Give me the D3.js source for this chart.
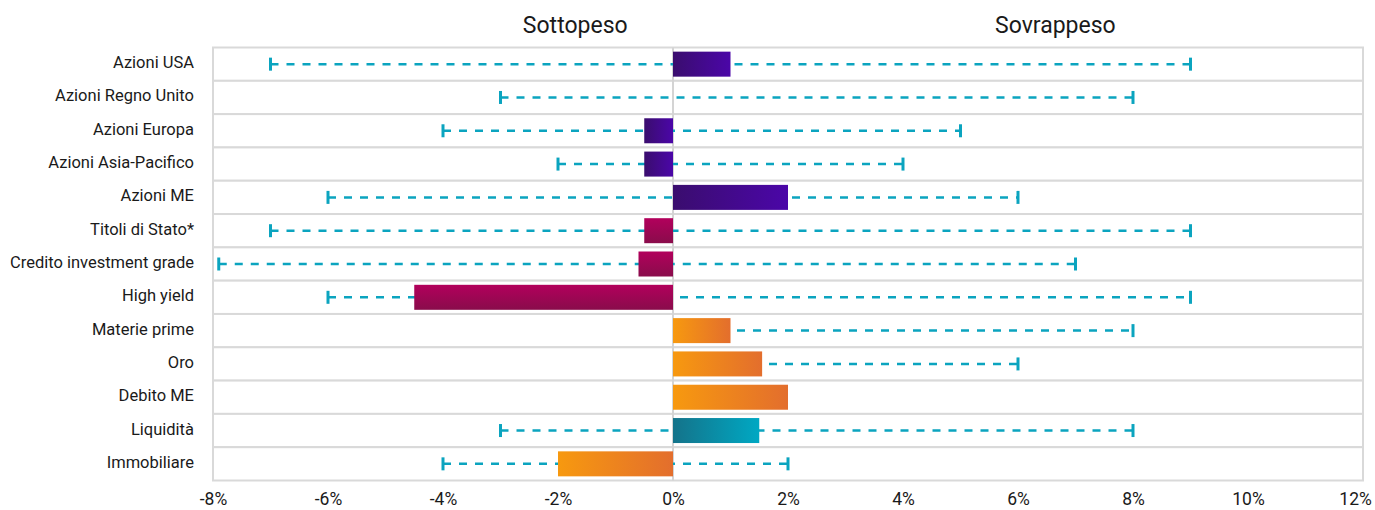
<!DOCTYPE html>
<html>
<head>
<meta charset="utf-8">
<script src="https://cdn.jsdelivr.net/npm/d3@7"></script>
<style>
  html, body { margin: 0; padding: 0; background: #ffffff; }
  svg { display: block; font-family: Roboto, "Noto Sans", sans-serif; }
</style>
</head>
<body>
<svg id="chart" width="1375" height="510"></svg>
<script>
// ---- data ----
const categories = [
  "Azioni USA", "Azioni Regno Unito", "Azioni Europa", "Azioni Asia-Pacifico",
  "Azioni ME", "Titoli di Stato*", "Credito investment grade", "High yield",
  "Materie prime", "Oro", "Debito ME", "Liquidità", "Immobiliare"
];
const positions = [1, 0, -0.5, -0.5, 2, -0.5, -0.6, -4.5, 1, 1.55, 2, 1.5, -2];
const rangeMin  = [-7, -3, -4, -2, -6, -7, -7.9, -6, 0, 0, null, -3, -4];
const rangeMax  = [9, 8, 5, 4, 6, 9, 7, 9, 8, 6, null, 8, 2];
const groups    = ["eq", "eq", "eq", "eq", "eq", "bond", "bond", "bond", "alt", "alt", "alt", "cash", "alt"];
const xTicks    = [-8, -6, -4, -2, 0, 2, 4, 6, 8, 10, 12];
const headers   = [{ text: "Sottopeso", at: -1.7 }, { text: "Sovrappeso", at: 6.65 }];

// ---- layout ----
const W = 1375;
const svg = d3.select("#chart");
const plotL = 213, plotR = 1363, plotT = 47.5, plotB = 480.5;

const x = d3.scaleLinear().domain([-8, 12]).range([plotL, plotR]);
const y = d3.scaleBand().domain(categories).range([plotT, plotB]).paddingInner(0).paddingOuter(0);
const barH = 25;

// gradients
const defs = svg.append("defs");
const gradSpecs = {
  eq:   { x2: 1, y2: 0, c0: "#3a0d6e", c1: "#4b06a8" },
  bond: { x2: 0, y2: 1, c0: "#b2005c", c1: "#890c4b" },
  alt:  { x2: 1, y2: 0, c0: "#f7990f", c1: "#e36e2d" },
  cash: { x2: 1, y2: 0, c0: "#14738a", c1: "#00a8c3" }
};
Object.entries(gradSpecs).forEach(([k, g]) => {
  const lg = defs.append("linearGradient").attr("id", "g-" + k)
    .attr("x1", 0).attr("y1", 0).attr("x2", g.x2).attr("y2", g.y2);
  lg.append("stop").attr("offset", "0%").attr("stop-color", g.c0);
  lg.append("stop").attr("offset", "100%").attr("stop-color", g.c1);
});

// row boxes
svg.append("g").selectAll("rect").data(categories).join("rect")
  .attr("x", plotL).attr("y", d => y(d))
  .attr("width", plotR - plotL).attr("height", y.bandwidth())
  .attr("fill", "#ffffff").attr("stroke", "#d9d9d9").attr("stroke-width", 2);

// zero line
svg.append("line")
  .attr("x1", x(0)).attr("x2", x(0)).attr("y1", plotT).attr("y2", plotB)
  .attr("stroke", "#d4d4d4").attr("stroke-width", 2);

// error ranges
const errColor = "#0ba4bf";
const errIdx = categories.map((c, i) => i).filter(i => rangeMin[i] !== null);
const eg = svg.append("g");
eg.selectAll("line.rng").data(errIdx).join("line").attr("class", "rng")
  .attr("x1", i => x(rangeMin[i])).attr("x2", i => x(rangeMax[i]))
  .attr("y1", i => y(categories[i]) + y.bandwidth() / 2)
  .attr("y2", i => y(categories[i]) + y.bandwidth() / 2)
  .attr("stroke", errColor).attr("stroke-width", 2.5)
  .attr("stroke-dasharray", "8,8");
const caps = [];
errIdx.forEach(i => {
  if (rangeMin[i] !== 0) caps.push({ i, v: rangeMin[i] });
  if (rangeMax[i] !== 0) caps.push({ i, v: rangeMax[i] });
});
eg.selectAll("line.cap").data(caps).join("line").attr("class", "cap")
  .attr("x1", d => x(d.v)).attr("x2", d => x(d.v))
  .attr("y1", d => y(categories[d.i]) + y.bandwidth() / 2 - 6.5)
  .attr("y2", d => y(categories[d.i]) + y.bandwidth() / 2 + 6.5)
  .attr("stroke", errColor).attr("stroke-width", 3);

// bars
svg.append("g").selectAll("rect").data(categories.map((c, i) => i).filter(i => positions[i] !== 0)).join("rect")
  .attr("x", i => x(Math.min(0, positions[i])))
  .attr("width", i => Math.abs(x(positions[i]) - x(0)))
  .attr("y", i => y(categories[i]) + (y.bandwidth() - barH) / 2)
  .attr("height", barH)
  .attr("fill", i => "url(#g-" + groups[i] + ")");

// y labels
svg.append("g").selectAll("text").data(categories).join("text")
  .attr("x", plotL - 19)
  .attr("y", d => y(d) + y.bandwidth() / 2 - 1.5)
  .attr("text-anchor", "end").attr("dominant-baseline", "central")
  .attr("font-size", 16.5).attr("fill", "#1a1a1a")
  .text(d => d);

// x axis labels
const xAxis = d3.axisBottom(x).tickValues(xTicks).tickSize(0).tickPadding(0)
  .tickFormat(d => d + "%");
const ax = svg.append("g").attr("transform", `translate(0,${plotB + 12.5})`).call(xAxis);
ax.select(".domain").remove();
ax.selectAll("text").attr("font-size", 17.5).attr("fill", "#1a1a1a")
  .attr("font-family", "Roboto, sans-serif").attr("dy", "0.71em");
// keep the last label inside the picture
ax.selectAll(".tick text").each(function () {
  const t = d3.select(this);
  const tick = this.parentNode.transform.baseVal.consolidate();
  const tx = tick ? tick.matrix.e : 0;
  const bb = this.getBBox();
  const overflow = tx + bb.x + bb.width - (W - 3);
  if (overflow > 0) t.attr("x", -overflow);
});

// headers
svg.append("g").selectAll("text").data(headers).join("text")
  .attr("x", d => x(d.at)).attr("y", 33)
  .attr("text-anchor", "middle").attr("font-size", 23).attr("fill", "#1a1a1a")
  .text(d => d.text);
</script>
</body>
</html>
